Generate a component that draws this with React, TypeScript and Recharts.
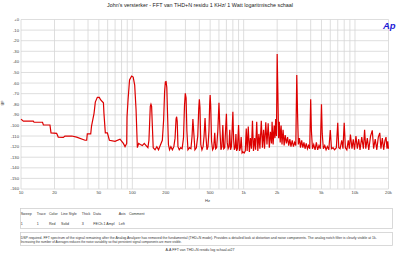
import React from 'react';
import { LineChart, Line, XAxis, YAxis, CartesianGrid } from 'recharts';

const freqs = [
  10, 10.5, 12.9, 13.1, 15.6, 15.9, 18.2, 18.6, 20.9, 21.6, 24, 24.8, 28.6, 31.6, 37.6, 38.9, 39.4, 42.3, 43, 45.3,
  46.5, 48.5, 50.5, 52, 55, 55.6, 57.2, 59.7, 62.2, 69.9, 77.5, 83.1, 86, 89, 89.6, 91.5, 94.4, 98.6, 101.8, 105,
  108, 111, 114, 118, 123, 128, 133, 138, 141, 143, 145, 147, 149, 151, 154, 160, 166, 172, 178, 186,
  191, 195, 198, 201, 204, 207, 211, 216, 222, 229, 236, 242, 247, 250, 253, 257, 264, 272, 280, 288,
  294, 299, 304, 309, 316, 326, 336, 344, 350, 356, 365, 376, 387, 395, 400, 405, 412, 422, 432, 441,
  450, 458, 468, 478, 488, 495, 500, 506, 515, 526, 538, 550, 560, 572, 586, 600, 612, 625, 638, 650,
  662, 676, 688, 700, 712, 725, 738, 750, 762, 776, 788, 800, 812, 825, 840, 852, 865, 880, 900, 918,
  935, 950, 968, 985, 1010, 1035, 1055, 1075, 1100, 1125, 1150, 1175, 1200, 1225, 1255, 1280, 1310, 1340, 1370, 1400,
  1440, 1475, 1510, 1540, 1580, 1620, 1660, 1700, 1740, 1780, 1800, 1840, 1880, 1910, 1940, 1970, 2000, 2030, 2060, 2090,
  2130, 2170, 2210, 2260, 2310, 2360, 2420, 2480, 2540, 2600, 2660, 2730, 2800, 2870, 2940, 3000, 3050, 3100, 3170, 3240,
  3320, 3400, 3480, 3560, 3650, 3740, 3830, 3920, 4000, 4060, 4150, 4260, 4380, 4500, 4620, 4750, 4880, 5000, 5080, 5200,
  5350, 5500, 5650, 5820, 6000, 6150, 6350, 6550, 6800, 7000, 7150, 7350, 7600, 7800, 8000, 8200, 8450, 8700, 8900, 9100,
  9400, 9650, 9900, 10200, 10500, 10800, 11100, 11500, 11900, 12200, 12500, 12900, 13300, 13800, 14300, 14700, 15200, 15700, 16200, 16700,
  17100, 17600, 18100, 18600, 19000, 19400, 19700, 20000,
];

const levels = [
  -94, -96, -96, -97, -97, -99.5, -99.6, -107, -107.5, -111, -111.3, -110, -110, -111, -114, -114, -108, -108, -100.6, -88.6,
  -78, -73.5, -73.5, -76, -78.6, -88.6, -107, -107, -114, -115, -113, -117, -120, -117, -92, -76, -57, -53.4, -54.3, -62,
  -85, -121, -117, -118, -119, -117, -119, -121, -114, -98, -82, -80, -82, -98, -121, -123, -120, -123, -119, -114,
  -95, -68, -59, -58.7, -64, -88, -118, -123, -120, -123, -120, -112, -94, -91.8, -96, -120, -123, -121, -122, -112,
  -82, -69.7, -74, -105, -123, -121, -122, -110, -94, -106, -123, -121, -110, -84, -75.4, -83, -118, -123, -120, -110,
  -93, -110, -123, -120, -105, -80, -71.3, -82, -115, -123, -121, -107, -122, -121, -105, -78.5, -104, -123, -120, -99.6,
  -122, -121, -104, -89, -116, -122, -120, -104, -123, -120, -104, -87, -113, -123, -121, -108, -124, -122, -99.6, -124,
  -121, -111, -126, -125, -126, -124, -103, -124, -101, -125, -112, -122, -95.5, -124, -112, -123, -96.5, -124, -108, -122,
  -95.5, -121, -104, -122, -97, -118, -98, -121, -106, -117, -96.5, -118, -100, -112, -94, -110, -32.6, -70, -112, -96.5,
  -116, -100, -118, -104, -119, -109, -117, -111, -119, -113, -120, -114, -120, -116, -119, -52.4, -90, -118, -112, -121,
  -114, -121, -116, -122, -117, -122, -119, -122, -75.4, -105, -122, -118, -123, -116, -123, -119, -122, -80, -108, -122,
  -119, -123, -120, -123, -104.3, -122, -121, -123, -121, -97.4, -121, -122, -114, -122, -97.4, -121, -123, -114, -122, -108.6,
  -122, -113, -123, -110, -122, -113, -123, -111, -122, -104, -122, -112, -123, -110, -104.6, -122, -113, -123, -111, -107,
  -122, -112, -123, -114, -111, -122, -115, -122,
];

const xGridTicks = [
  10, 20, 30, 40, 50, 60, 70, 80, 90,
  100, 200, 300, 400, 500, 600, 700, 800, 900,
  1000, 2000, 3000, 4000, 5000, 6000, 7000, 8000, 9000,
  10000, 20000,
];
const xLabelValues = [10, 20, 50, 100, 200, 500, 1000, 2000, 5000, 10000, 20000];
const xLabelTexts = ['10', '20', '50', '100', '200', '500', '1k', '2k', '5k', '10k', '20k'];
const yTicks = [0, -10, -20, -30, -40, -50, -60, -70, -80, -90, -100, -110, -120, -130, -140, -150, -160];

const title = "John's versterker - FFT van THD+N residu 1 KHz/ 1 Watt logaritmische schaal";
const tableHeaders = ['Sweep', 'Trace', 'Color', 'Line Style', 'Thick', 'Data', 'Axis', 'Comment'];
const tableRow = ['1', '1', 'Red', 'Solid', '3', 'FECh.1 Ampl', 'Left', ''];
const commentLines = [
  'DSP required.  FFT spectrum of the signal remaining after the Analog Analyzer has removed the fundamental (THD+N mode).  Provides a detailed look at distortion and noise components.  The analog notch filter is clearly visible at 1k.',
  'Increasing the number of Averages reduces the noise variability so that persistent signal components are more visible.',
];
const footer = 'A-A FFT van THD+N residu log schaal.at27';

const data = freqs.map((f, i) => ({ f, db: levels[i] }));

const colX = [20.7, 36.7, 49, 61, 81.7, 93.3, 118.7, 129];
const FONT = 'Liberation Sans, Arial, sans-serif';

const fmtX = (v: number) => {
  const i = xLabelValues.indexOf(v);
  return i >= 0 ? xLabelTexts[i] : '';
};
const fmtY = (v: number) => (v === 0 ? '+0' : String(v));

export default function App() {
  return (
    <div style={{ position: 'absolute', left: 0, top: 0, width: 400, height: 255, background: '#fff', overflow: 'hidden' }}>
      <LineChart width={400} height={205} data={data} margin={{ top: 19.5, right: 11.5, bottom: 0, left: 0 }}>
        <CartesianGrid stroke="#d6d6d6" strokeWidth={0.8} />
        <XAxis
          dataKey="f"
          type="number"
          scale="log"
          domain={[10, 20000]}
          ticks={xGridTicks}
          interval={0}
          tickFormatter={fmtX}
          height={16}
          axisLine={false}
          tickLine={false}
          tickSize={2}
          tickMargin={0}
          tick={{ fontSize: 4.2, fill: '#444', fontFamily: FONT }}
        />
        <YAxis
          type="number"
          domain={[-160, 0]}
          ticks={yTicks}
          interval={0}
          tickFormatter={fmtY}
          width={21}
          axisLine={false}
          tickLine={false}
          tickSize={2}
          tickMargin={0}
          tick={{ fontSize: 4.2, fill: '#444', fontFamily: FONT }}
        />
        <Line
          type="linear"
          dataKey="db"
          stroke="#dd0000"
          strokeWidth={1.2}
          dot={false}
          isAnimationActive={false}
        />
      </LineChart>
      <svg
        width={400}
        height={255}
        style={{ position: 'absolute', left: 0, top: 0, pointerEvents: 'none' }}
        fontFamily={FONT}
      >
        <text x={200} y={6.6} textAnchor="middle" fontSize={5.2} fill="#222" textLength={186} lengthAdjust="spacingAndGlyphs">
          {title}
        </text>
        <text x={383} y={28.5} fontSize={9.5} fontStyle="italic" fontWeight="bold" fill="#1c1cd8">
          Ap
        </text>
        <text transform="translate(1,103) rotate(90)" textAnchor="middle" fontSize={4.2} fill="#444">
          dB
        </text>
        <text x={207.5} y={202} textAnchor="middle" fontSize={4.2} fill="#444">
          Hz
        </text>
        <rect x={20.5} y={208.5} width={372} height={20} fill="none" stroke="#d0d0d0" strokeWidth={0.8} />
        <rect x={20.5} y={232.5} width={372} height={13} fill="none" stroke="#d0d0d0" strokeWidth={0.8} />
        {tableHeaders.map((h, i) => (
          <text key={'h' + i} x={colX[i]} y={214.6} fontSize={3.6} fill="#333">
            {h}
          </text>
        ))}
        {tableRow.map((h, i) => (
          <text key={'r' + i} x={colX[i]} y={224.6} fontSize={3.6} fill="#333">
            {h}
          </text>
        ))}
        <text x={20.7} y={238.6} fontSize={3.6} fill="#333" textLength={356} lengthAdjust="spacingAndGlyphs">
          {commentLines[0]}
        </text>
        <text x={20.7} y={243.3} fontSize={3.6} fill="#333" textLength={161} lengthAdjust="spacingAndGlyphs">
          {commentLines[1]}
        </text>
        <text x={200} y={250.6} textAnchor="middle" fontSize={3.6} fill="#333">
          {footer}
        </text>
      </svg>
    </div>
  );
}
